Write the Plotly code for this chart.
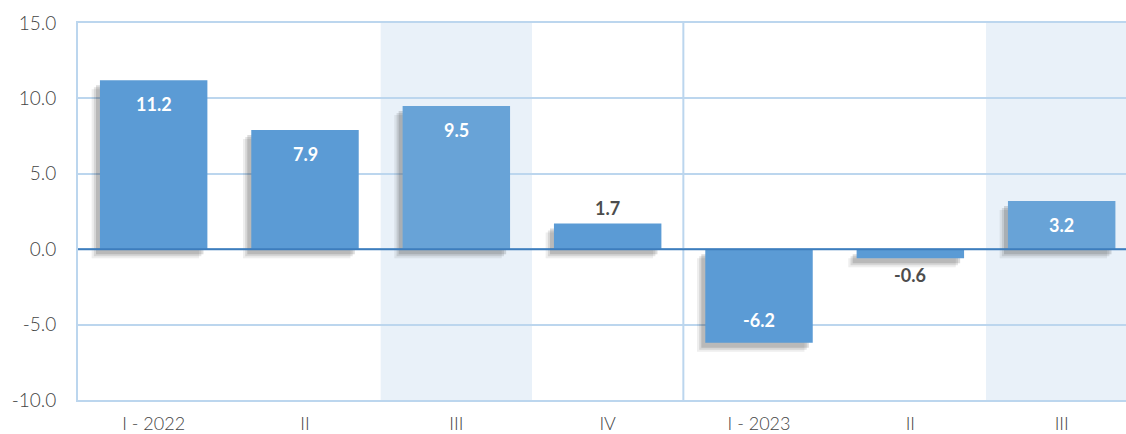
import plotly.graph_objects as go

# quarterly values
quarters = ["I - 2022", "II", "III", "IV", "I - 2023", "II", "III"]
values = [11.2, 7.9, 9.5, 1.7, -6.2, -0.6, 3.2]
highlighted = [2, 6]
y_ticks = [-10, -5, 0, 5, 10, 15]
y_tick_labels = ["-10.0", "-5.0", "0.0", "5.0", "10.0", "15.0"]

xs = list(range(len(quarters)))
bar_w = 0.71
colors = ["#68a3d7" if i in highlighted else "#5b9bd5" for i in xs]

fig = go.Figure()

# fake drop shadow: a few offset translucent copies under the bars
for dx, dy, alpha in [(0.026, 0.33, 0.16), (0.04, 0.46, 0.12), (0.055, 0.6, 0.08)]:
    fig.add_trace(go.Bar(
        x=xs, y=values, base=-dy, width=bar_w, offset=-bar_w / 2 - dx,
        marker={"color": f"rgba(40,40,40,{alpha})", "line": {"width": 0}},
        hoverinfo="skip", showlegend=False,
    ))

fig.add_trace(go.Bar(
    x=xs, y=values, width=bar_w, offset=-bar_w / 2,
    marker={"color": colors, "line": {"width": 0}},
    hoverinfo="skip", showlegend=False,
))

for x, v in zip(xs, values):
    inside = abs(v) >= 2
    if inside:
        shift = -24 if v > 0 else 23
        color = "#ffffff"
    else:
        shift = 16 if v > 0 else -17
        color = "#4d4d4d"
    fig.add_annotation(
        x=x, y=v, text=f"{v:.1f}", showarrow=False, yshift=shift,
        font={"family": "Lato", "size": 18, "color": color, "weight": "bold"},
    )

shapes = []
for i in highlighted:
    shapes.append({"type": "rect", "xref": "x", "yref": "paper", "x0": i - 0.5, "x1": i + 0.5,
                   "y0": 0, "y1": 1, "fillcolor": "#e9f1f9", "line": {"width": 0}, "layer": "below"})
shapes.append({"type": "line", "xref": "x", "yref": "paper", "x0": 3.5, "x1": 3.5, "y0": 0, "y1": 1,
               "line": {"color": "#bcd6ee", "width": 2}, "layer": "below"})
shapes.append({"type": "line", "xref": "x", "yref": "y", "x0": -0.5, "x1": 6.5, "y0": 0, "y1": 0,
               "line": {"color": "#3d7dbd", "width": 2}, "layer": "above"})

fig.update_layout(
    width=1126, height=434, barmode="overlay",
    paper_bgcolor="white", plot_bgcolor="white",
    margin={"l": 78, "r": 0, "t": 23, "b": 34},
    shapes=shapes,
    font={"family": "Lato", "color": "#444444"},
)
fig.update_xaxes(
    range=[-0.5, 6.425], tickvals=xs, ticktext=quarters, showgrid=False, zeroline=False,
    showline=True, mirror=True, linecolor="#bcd6ee", linewidth=2,
    tickfont={"size": 18, "weight": 300}, ticklabelstandoff=6, automargin=False, fixedrange=True,
)
fig.update_yaxes(
    range=[-10, 15], tickvals=y_ticks, ticktext=y_tick_labels,
    showgrid=True, gridcolor="#bcd6ee", gridwidth=2, zeroline=False,
    showline=True, linecolor="#bcd6ee", linewidth=2,
    tickfont={"size": 19, "weight": 300}, ticklabelstandoff=16, automargin=False, fixedrange=True,
)

# drop the browser's default body margin so the figure sits at the window corner
fig.write_html("out.html", config={"displayModeBar": False},
               post_script="document.body.style.margin='0';")
